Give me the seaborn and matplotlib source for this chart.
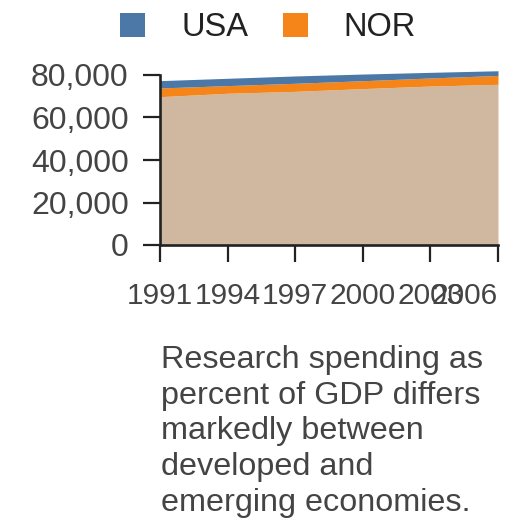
import numpy as np
import pandas as pd
import seaborn as sns
import matplotlib.pyplot as plt
from matplotlib.patches import Patch

# values (stacked bands)
years = [1991, 1994, 1997, 2000, 2003, 2006]
base = [69800, 71400, 72300, 73600, 74800, 75600]
nor = [4100, 3600, 3800, 3700, 3800, 4200]
usa = [3450, 3450, 3450, 3150, 2650, 2200]
series = ['USA', 'NOR']
caption = ('Research spending as\npercent of GDP differs\nmarkedly between\n'
           'developed and\nemerging economies.')

df = pd.DataFrame({'year': years, 'base': base, 'NOR': nor, 'USA': usa})
df['top_base'] = df['base']
df['top_nor'] = df['top_base'] + df['NOR']
df['top_usa'] = df['top_nor'] + df['USA']

sns.set_theme(style='ticks')
plt.rcParams['font.family'] = ['Liberation Sans', 'DejaVu Sans']

colors = {'USA': '#4c78a8', 'NOR': '#f58518', 'base': '#d0b8a0'}
axis_col = '#222222'
text_col = '#444444'

fig = plt.figure(figsize=(5.28, 5.28), dpi=100)
ax = fig.add_axes([160 / 528, 283 / 528, 338 / 528, 170 / 528])

ax.fill_between(df['year'], 0, df['top_base'], color=colors['base'], lw=0, clip_on=False)
ax.fill_between(df['year'], df['top_base'], df['top_nor'], color=colors['NOR'], lw=0, clip_on=False)
ax.fill_between(df['year'], df['top_nor'], df['top_usa'], color=colors['USA'], lw=0, clip_on=False)

ax.set_xlim(1991, 2006)
ax.set_ylim(0, 80000)
ax.set_xticks(years)
ax.set_xticklabels([str(y) for y in years])
ax.set_yticks([0, 20000, 40000, 60000, 80000])
ax.set_yticklabels(['{:,}'.format(v) for v in [0, 20000, 40000, 60000, 80000]])
ax.get_xticklabels()[-1].set_ha('right')

sns.despine(ax=ax)
for s in ['left', 'bottom']:
    ax.spines[s].set_color(axis_col)
    ax.spines[s].set_linewidth(1.9)
    ax.spines[s].set_zorder(5)
ax.tick_params(axis='x', length=12, width=1.6, color=axis_col, pad=15,
               labelsize=21.5, labelcolor=text_col)
ax.tick_params(axis='y', length=12.5, width=1.6, color=axis_col, pad=10,
               labelsize=23, labelcolor=text_col)
ax.set_xlabel('')
ax.set_ylabel('')

handles = [Patch(facecolor=colors[s], edgecolor='none', label=s) for s in series]
fig.legend(handles=handles, loc='center', bbox_to_anchor=(268 / 528, 1 - 28 / 528),
           ncol=2, frameon=False, fontsize=23.5, handlelength=0.78, handleheight=0.78,
           handletextpad=1.1, columnspacing=1.05, labelcolor='#222222')

fig.text(161 / 528, 1 - 345 / 528, caption, ha='left', va='top', fontsize=23.3,
         color=text_col, linespacing=1.25)

fig.savefig('out.png', dpi=100)
